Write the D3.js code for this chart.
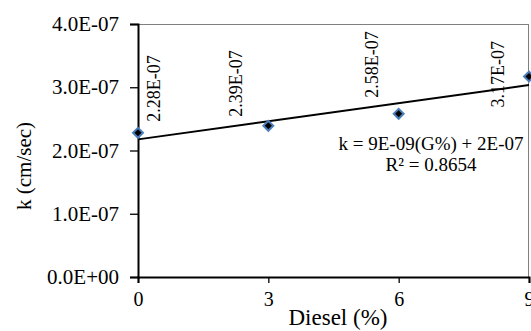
<!DOCTYPE html>
<html><head><meta charset="utf-8">
<script src="https://cdn.jsdelivr.net/npm/d3@7"></script>
<style>
html,body{margin:0;padding:0;background:#fff;overflow:hidden;}
text{font-family:"Liberation Serif","Times New Roman",serif;fill:#000;}
</style></head>
<body>
<script>
// ---- data ----
const dieselPct = [0, 3, 6, 9];
const kValues = [2.28e-7, 2.39e-7, 2.58e-7, 3.17e-7];
const pointLabels = ["2.28E-07", "2.39E-07", "2.58E-07", "3.17E-07"];
const xTicks = [0, 3, 6, 9];
const yTicks = [0, 1e-7, 2e-7, 3e-7, 4e-7];
const yTickLabels = ["0.0E+00", "1.0E-07", "2.0E-07", "3.0E-07", "4.0E-07"];
const equationText = "k = 9E-09(G%) + 2E-07";
const r2Text = "R² = 0.8654";
const xTitle = "Diesel (%)";
const yTitle = "k (cm/sec)";

// ---- layout ----
const W = 531, H = 331;
const plot = {left: 138, right: 529, top: 24, bottom: 277};
// label placement relative to point: [dx to text centre, bottom pixel offset above point]
const labelOffsets = [[16, -11], [-33, -9], [-27, -16], [-31, 31]];

const svg = d3.select("body").append("svg").attr("width", W).attr("height", H);

const x = d3.scaleLinear().domain([0, 9]).range([plot.left, plot.right]);
const y = d3.scaleLinear().domain([0, 4e-7]).range([plot.bottom, plot.top]);

// frame (top/right grey)
svg.append("line").attr("x1", plot.left).attr("x2", plot.right).attr("y1", plot.top + 0.5).attr("y2", plot.top + 0.5)
  .attr("stroke", "#7f7f7f").attr("stroke-width", 1);
svg.append("line").attr("x1", plot.right - 0.5).attr("x2", plot.right - 0.5).attr("y1", plot.top).attr("y2", plot.bottom)
  .attr("stroke", "#7f7f7f").attr("stroke-width", 1);

// y axis
const yAxis = d3.axisLeft(y).tickValues(yTicks).tickSize(8).tickPadding(11)
  .tickFormat((d, i) => yTickLabels[i]);
const gy = svg.append("g").attr("transform", `translate(${plot.left},0)`).call(yAxis);
gy.select(".domain").attr("stroke", "#000").attr("stroke-width", 2);
gy.selectAll(".tick line").attr("stroke", "#000").attr("stroke-width", 1.3);
gy.selectAll(".tick text").attr("font-size", 21).attr("font-family", "Liberation Serif");

// x axis
const xAxis = d3.axisBottom(x).tickValues(xTicks).tickSize(6).tickPadding(9).tickFormat(d3.format("d"));
const gx = svg.append("g").attr("transform", `translate(0,${plot.bottom})`).call(xAxis);
gx.select(".domain").attr("stroke", "#000").attr("stroke-width", 2);
gx.selectAll(".tick line").attr("stroke", "#000").attr("stroke-width", 1.3);
gx.selectAll(".tick text").attr("font-size", 20).attr("font-family", "Liberation Serif");

// axis titles
svg.append("text").attr("x", 338).attr("y", 325).attr("text-anchor", "middle")
  .attr("font-size", 23).text(xTitle);
svg.append("text").attr("transform", `translate(31,166) rotate(-90)`).attr("text-anchor", "middle")
  .attr("font-size", 21).text(yTitle);

// linear trend line (least squares from data)
const n = dieselPct.length;
const mx = d3.mean(dieselPct), my = d3.mean(kValues);
let sxy = 0, sxx = 0;
for (let i = 0; i < n; i++) { sxy += (dieselPct[i] - mx) * (kValues[i] - my); sxx += (dieselPct[i] - mx) ** 2; }
const slope = sxy / sxx, intercept = my - slope * mx;
const trend = d3.line().x(d => x(d)).y(d => y(intercept + slope * d));
svg.append("path").datum([0, 9]).attr("d", trend).attr("fill", "none")
  .attr("stroke", "#000").attr("stroke-width", 2);

// markers (square rotated 45° = diamond)
svg.selectAll("path.pt").data(dieselPct).enter().append("path").attr("class", "pt")
  .attr("d", d3.symbol(d3.symbolSquare, 49))
  .attr("transform", (d, i) => `translate(${x(d)},${y(kValues[i])}) rotate(45)`)
  .attr("fill", "#000").attr("stroke", "#4a7ebb").attr("stroke-width", 2);

// data labels
svg.selectAll("text.lbl").data(pointLabels).enter().append("text").attr("class", "lbl")
  .attr("transform", (d, i) => `translate(${x(dieselPct[i]) + labelOffsets[i][0]},${y(kValues[i]) + labelOffsets[i][1]}) rotate(-90)`)
  .attr("dy", "0.35em").attr("font-size", 18).text(d => d);

// equation
svg.append("text").attr("x", 431).attr("y", 150).attr("text-anchor", "middle").attr("font-size", 19).text(equationText);
svg.append("text").attr("x", 431).attr("y", 171).attr("text-anchor", "middle").attr("font-size", 19).text(r2Text);
</script>
</body></html>
